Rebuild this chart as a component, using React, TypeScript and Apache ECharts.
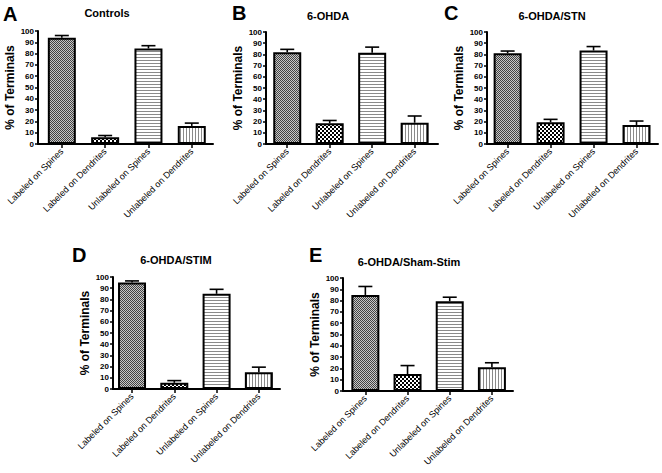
import React, { useEffect, useRef } from "react";
import * as echarts from "echarts";

const categories = [
  "Labeled on Spines",
  "Labeled on Dendrites",
  "Unlabeled on Spines",
  "Unlabeled on Dendrites",
];
const panelLetters = ["A", "B", "C", "D", "E"];
const panelTitles = ["Controls", "6-OHDA", "6-OHDA/STN", "6-OHDA/STIM", "6-OHDA/Sham-Stim"];
const yTicks = { min: 0, max: 100, interval: 10 };
const yName = "% of Terminals";

const controlsMean = [94, 6, 84.5, 16];
const controlsErr = [2, 1.5, 2.5, 2.5];
const ohdaMean = [82, 18.5, 81.5, 19];
const ohdaErr = [2.5, 2.5, 5, 6];
const stnMean = [81, 19.5, 83.5, 17];
const stnErr = [2, 2.5, 3.5, 3.5];
const stimMean = [95, 5.5, 85, 15];
const stimErr = [1.5, 2, 4, 4.5];
const shamMean = [85, 15, 79.5, 21];
const shamErr = [7.5, 7.5, 3.5, 4];

const means = [controlsMean, ohdaMean, stnMean, stimMean, shamMean];
const errs = [controlsErr, ohdaErr, stnErr, stimErr, shamErr];

// layout (pixels)
const layout = [
  { left: 38, top: 31, width: 175, height: 113, xMin: -0.55, xMax: 3.49, letter: [3, 4], title: [107, 7] },
  { left: 266, top: 32, width: 172, height: 112, xMin: -0.5, xMax: 3.55, letter: [232, 3], title: [328, 10] },
  { left: 487, top: 32, width: 171, height: 112, xMin: -0.48, xMax: 3.5, letter: [444, 3], title: [552, 10] },
  { left: 113, top: 277, width: 167, height: 112, xMin: -0.45, xMax: 3.5, letter: [72, 245], title: [176, 254] },
  { left: 343, top: 278, width: 170, height: 113, xMin: -0.53, xMax: 3.5, letter: [309, 245], title: [409, 256] },
];

const FONT = "'Liberation Sans', Arial, sans-serif";

function makePattern(kind: string) {
  const c = document.createElement("canvas");
  let w = 2, h = 2;
  if (kind === "fine") { w = 2; h = 2; }
  if (kind === "coarse") { w = 4; h = 4; }
  if (kind === "h") { w = 1; h = 3; }
  if (kind === "v") { w = 3; h = 1; }
  c.width = w; c.height = h;
  const ctx = c.getContext("2d")!;
  if (kind === "fine") {
    ctx.fillStyle = "#c8c8c8"; ctx.fillRect(0, 0, 2, 2);
    ctx.fillStyle = "#444444"; ctx.fillRect(0, 0, 1, 1); ctx.fillRect(1, 1, 1, 1);
  } else if (kind === "coarse") {
    ctx.fillStyle = "#ffffff"; ctx.fillRect(0, 0, 4, 4);
    ctx.fillStyle = "#000000"; ctx.fillRect(0, 0, 2, 2); ctx.fillRect(2, 2, 2, 2);
  } else if (kind === "h") {
    ctx.fillStyle = "#ffffff"; ctx.fillRect(0, 0, 1, 3);
    ctx.fillStyle = "#8a8a8a"; ctx.fillRect(0, 0, 1, 1);
  } else {
    ctx.fillStyle = "#ffffff"; ctx.fillRect(0, 0, 3, 1);
    ctx.fillStyle = "#8a8a8a"; ctx.fillRect(0, 0, 1, 1);
  }
  return { image: c, repeat: "repeat", imageWidth: w, imageHeight: h } as any;
}

export default function App() {
  const ref = useRef<HTMLDivElement>(null);
  useEffect(() => {
    if (!ref.current) return;
    const chart = echarts.init(ref.current, null, { renderer: "svg" });
    const fills = [makePattern("fine"), makePattern("coarse"), makePattern("h"), makePattern("v")];

    const grids: any[] = [];
    const xAxes: any[] = [];
    const yAxes: any[] = [];
    const series: any[] = [];
    const titles: any[] = [];

    layout.forEach((L, p) => {
      grids.push({ left: L.left, top: L.top, width: L.width, height: L.height, containLabel: false });
      xAxes.push({
        type: "value",
        gridIndex: p,
        min: L.xMin,
        max: L.xMax,
        splitLine: { show: false },
        axisLine: { show: true, onZero: false, lineStyle: { color: "#000", width: 2 } },
        axisTick: { show: true, customValues: [0, 1, 2, 3], length: 4, lineStyle: { color: "#000", width: 1.5 } },
        axisLabel: {
          show: true,
          customValues: [0, 1, 2, 3],
          formatter: (v: number) => categories[Math.round(v)] ?? "",
          rotate: 45,
          margin: 6,
          fontSize: 9,
          color: "#000",
          fontFamily: FONT,
        },
      });
      yAxes.push({
        type: "value",
        gridIndex: p,
        min: yTicks.min,
        max: yTicks.max,
        interval: yTicks.interval,
        name: yName,
        nameLocation: "middle",
        nameRotate: 90,
        nameGap: 22,
        nameTextStyle: { fontSize: 12, fontWeight: "bold", color: "#000", fontFamily: FONT },
        splitLine: { show: false },
        axisLine: { show: true, onZero: false, lineStyle: { color: "#000", width: 2 } },
        axisTick: { show: true, length: 3, lineStyle: { color: "#000", width: 1.5 } },
        axisLabel: { fontSize: 8, fontWeight: "bold", color: "#000", margin: 4, fontFamily: FONT },
      });
      const m = means[p];
      const e = errs[p];
      series.push({
        type: "bar",
        xAxisIndex: p,
        yAxisIndex: p,
        barWidth: 28,
        data: m.map((v, i) => ({
          value: [i, v],
          itemStyle: { color: fills[i], borderColor: "#000", borderWidth: 2 },
        })),
        z: 2,
      });
      series.push({
        type: "custom",
        xAxisIndex: p,
        yAxisIndex: p,
        z: 3,
        clip: false,
        dimensions: ["cat", "mean", "top"],
        encode: { x: 0, y: 1 },
        data: m.map((v, i) => [i, v, v + e[i]]),
        renderItem: (params: any, api: any) => {
          const i = params.dataIndex;
          const p0 = api.coord([i, m[i]]);
          const p1 = api.coord([i, m[i] + e[i]]);
          const style = { stroke: "#000", lineWidth: 1.6 };
          return {
            type: "group",
            children: [
              { type: "line", shape: { x1: p0[0], y1: p0[1], x2: p1[0], y2: p1[1] }, style },
              { type: "line", shape: { x1: p1[0] - 7, y1: p1[1], x2: p1[0] + 7, y2: p1[1] }, style },
            ],
          };
        },
      });
      titles.push({
        text: panelLetters[p],
        left: L.letter[0],
        top: L.letter[1],
        padding: 0,
        textStyle: { fontSize: 20, fontWeight: "bold", color: "#000", fontFamily: FONT },
      });
      titles.push({
        text: panelTitles[p],
        left: L.title[0],
        top: L.title[1],
        textAlign: "center",
        padding: 0,
        textStyle: { fontSize: 11, fontWeight: "bold", color: "#000", fontFamily: FONT },
      });
    });

    chart.setOption({
      animation: false,
      backgroundColor: "#fff",
      title: titles,
      grid: grids,
      xAxis: xAxes,
      yAxis: yAxes,
      series,
    });
    return () => chart.dispose();
  }, []);
  return (
    <div
      ref={ref}
      style={{ position: "absolute", left: 0, top: 0, width: 662, height: 473 }}
    />
  );
}
